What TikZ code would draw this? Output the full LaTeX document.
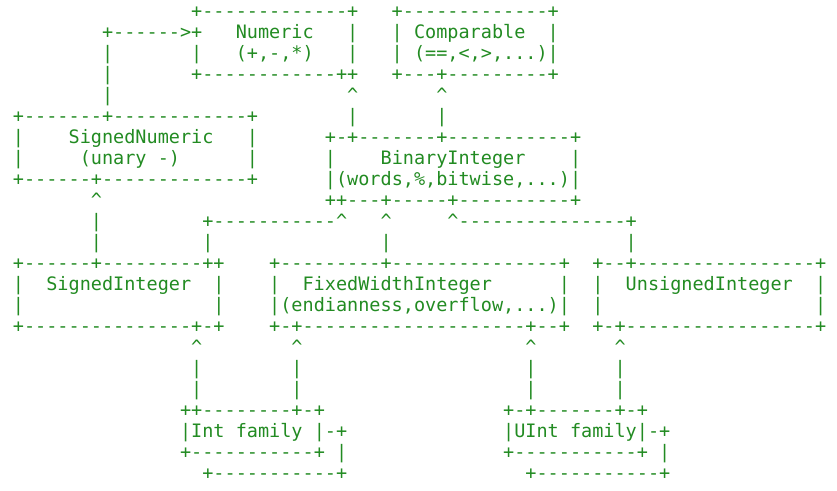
\documentclass[tikz,border=0pt]{standalone}
\usepackage{fontspec}
\setmonofont{DejaVu Sans Mono}
\definecolor{asciigreen}{RGB}{34,139,34}
\newcommand\ascup{\textasciicircum}

\begin{document}
\begin{tikzpicture}[
                    y=15.75pt,
                    asciirow/.style={
                        anchor=base west,
                        inner sep=0pt,
                        text=asciigreen,
                        font=\ttfamily\fontsize{13.88pt}{15.75pt}\selectfont
                        }
                    ]
                \useasboundingbox (-9.5pt,-2.55pt) rectangle (618.25pt,-370.8pt);
                % Numeric, Comparable
                \node [asciirow] (l01) at (0,-1) {~~~~~~~~~~~~~~~~+-------------+~~~+-------------+};
                \node [asciirow] (l02) at (0,-2) {~~~~~~~~+------>+~~~Numeric~~~|~~~|~Comparable~~|};
                \node [asciirow] (l03) at (0,-3) {~~~~~~~~|~~~~~~~|~~~(+,-,*)~~~|~~~|~(==,<,>,...)|};
                \node [asciirow] (l04) at (0,-4) {~~~~~~~~|~~~~~~~+------------++~~~+---+---------+};
                \node [asciirow] (l05) at (0,-5) {~~~~~~~~|~~~~~~~~~~~~~~~~~~~~~\ascup~~~~~~~\ascup};
                % SignedNumeric, BinaryInteger
                \node [asciirow] (l06) at (0,-6) {+-------+------------+~~~~~~~~|~~~~~~~|};
                \node [asciirow] (l07) at (0,-7) {|~~~~SignedNumeric~~~|~~~~~~+-+-------+-----------+};
                \node [asciirow] (l08) at (0,-8) {|~~~~~(unary~-)~~~~~~|~~~~~~|~~~~BinaryInteger~~~~|};
                \node [asciirow] (l09) at (0,-9) {+------+-------------+~~~~~~|(words,\%,bitwise,...)|};
                \node [asciirow] (l10) at (0,-10) {~~~~~~~\ascup~~~~~~~~~~~~~~~~~~~~++---+-----+----------+};
                \node [asciirow] (l11) at (0,-11) {~~~~~~~|~~~~~~~~~+-----------\ascup~~~\ascup~~~~~\ascup---------------+};
                \node [asciirow] (l12) at (0,-12) {~~~~~~~|~~~~~~~~~|~~~~~~~~~~~~~~~|~~~~~~~~~~~~~~~~~~~~~|};
                % SignedInteger, FixedWidthInteger, UnsignedInteger
                \node [asciirow] (l13) at (0,-13) {+------+---------++~~~~+---------+---------------+~~+--+----------------+};
                \node [asciirow] (l14) at (0,-14) {|~~SignedInteger~~|~~~~|~~FixedWidthInteger~~~~~~|~~|~~UnsignedInteger~~|};
                \node [asciirow] (l15) at (0,-15) {|~~~~~~~~~~~~~~~~~|~~~~|(endianness,overflow,...)|~~|~~~~~~~~~~~~~~~~~~~|};
                \node [asciirow] (l16) at (0,-16) {+---------------+-+~~~~+-+--------------------+--+~~+-+-----------------+};
                \node [asciirow] (l17) at (0,-17) {~~~~~~~~~~~~~~~~\ascup~~~~~~~~\ascup~~~~~~~~~~~~~~~~~~~~\ascup~~~~~~~\ascup};
                \node [asciirow] (l18) at (0,-18) {~~~~~~~~~~~~~~~~|~~~~~~~~|~~~~~~~~~~~~~~~~~~~~|~~~~~~~|};
                \node [asciirow] (l19) at (0,-19) {~~~~~~~~~~~~~~~~|~~~~~~~~|~~~~~~~~~~~~~~~~~~~~|~~~~~~~|};
                % Int family, UInt family
                \node [asciirow] (l20) at (0,-20) {~~~~~~~~~~~~~~~++--------+-+~~~~~~~~~~~~~~~~+-+-------+-+};
                \node [asciirow] (l21) at (0,-21) {~~~~~~~~~~~~~~~|Int~family~|-+~~~~~~~~~~~~~~|UInt~family|-+};
                \node [asciirow] (l22) at (0,-22) {~~~~~~~~~~~~~~~+-----------+~|~~~~~~~~~~~~~~+-----------+~|};
                \node [asciirow] (l23) at (0,-23) {~~~~~~~~~~~~~~~~~+-----------+~~~~~~~~~~~~~~~~+-----------+};
            \end{tikzpicture}
\end{document}
